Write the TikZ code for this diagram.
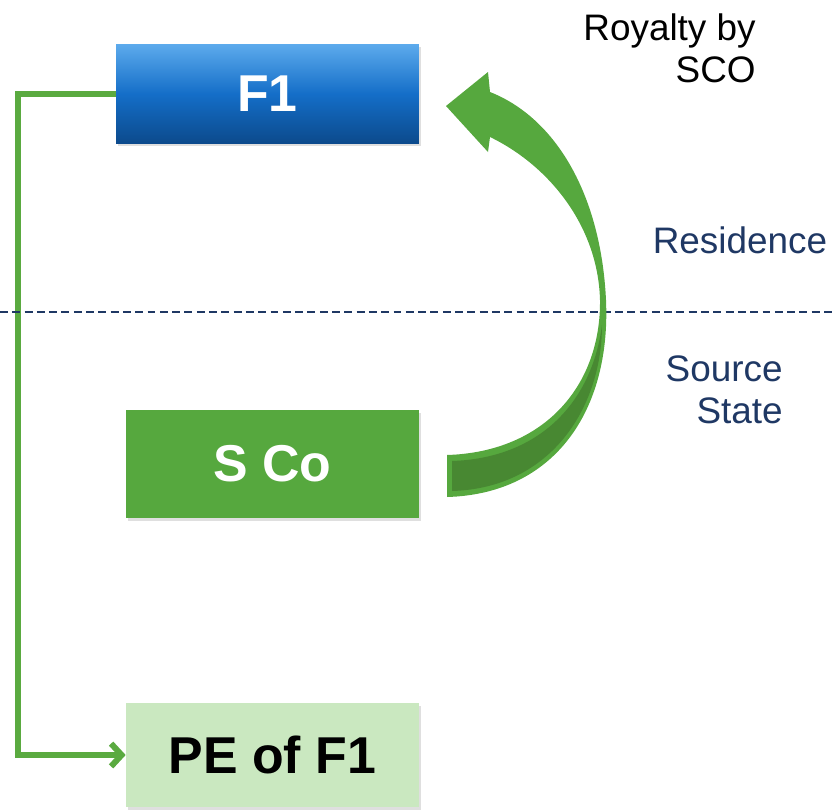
\documentclass[tikz,border=0pt]{standalone}
\usepackage{fontspec}
\setmainfont{Liberation Sans}
\usetikzlibrary{arrows.meta,shadows}
\definecolor{boxblue}{RGB}{20,110,200}
\definecolor{boxbluetop}{RGB}{92,170,236}
\definecolor{boxbluebot}{RGB}{12,74,140}
\definecolor{scogreen}{RGB}{86,168,62}
\definecolor{pegreen}{RGB}{202,232,192}
\definecolor{flowgreen}{RGB}{90,170,64}
\definecolor{darkgreen}{RGB}{72,136,50}
\definecolor{navy}{RGB}{31,56,100}
\newcommand{\boxfont}{\fontsize{29.5}{34}\selectfont\bfseries}
\newcommand{\sidefont}{\fontsize{21}{24}\selectfont}
\tikzset{
	entity/.style={inner sep=0pt, drop shadow={shadow xshift=1pt, shadow yshift=-1.5pt, opacity=0.25}},
	conn/.style={draw=flowgreen, line width=3.4pt, -{Straight Barb[length=6pt,width=13pt]}},
	divider/.style={draw=navy, line width=0.8pt, dash pattern=on 4.5pt off 2.5pt},
	sidetext/.style={inner sep=0pt, font=\sidefont},
}

\begin{document}
\begin{tikzpicture}[x=0.02cm,y=-0.02cm]
		\useasboundingbox (0,0) rectangle (836,809);

		\node[entity, top color=boxbluetop, bottom color=boxbluebot, middle color=boxblue, minimum width=6.06cm, minimum height=1.98cm, text=white, font=\boxfont] (f1) at (267.5,94) {F1};
		\node[entity, fill=scogreen, minimum width=5.86cm, minimum height=2.16cm, text=white, font=\boxfont] (sco) at (272.5,464) {S Co};
		\node[entity, fill=pegreen, minimum width=5.86cm, minimum height=2.08cm, text=black, font=\boxfont] (pe) at (272.5,755) {PE of F1};

		\draw[conn] (f1.west) -- ++(-98,0) |- (pe.west);

		\draw[divider] (0,312) -- (836,312);

		% royalty arrow
		\fill[scogreen] (447,497) .. controls (555,494) and (611,410) .. (606,300) .. controls (601,195) and (556,118) .. (490,92)
			-- (488,72) -- (446,106) -- (488,152) -- (490,137)
			.. controls (548,165) and (598,225) .. (600,300) .. controls (601,385) and (545,452) .. (447,455) -- cycle;
		\fill[darkgreen] (452,491) .. controls (553,488) and (602,405) .. (602,325) .. controls (592,402) and (540,458) .. (452,461) -- cycle;

		\node[sidetext, align=right, anchor=east] (royalty) at (756,48) {Royalty by\\SCO};
		\node[sidetext, text=navy] (res) at (740,240) {Residence};
		\node[sidetext, align=right, anchor=east, text=navy] (src) at (783,390) {Source\\State};
\end{tikzpicture}
\end{document}
